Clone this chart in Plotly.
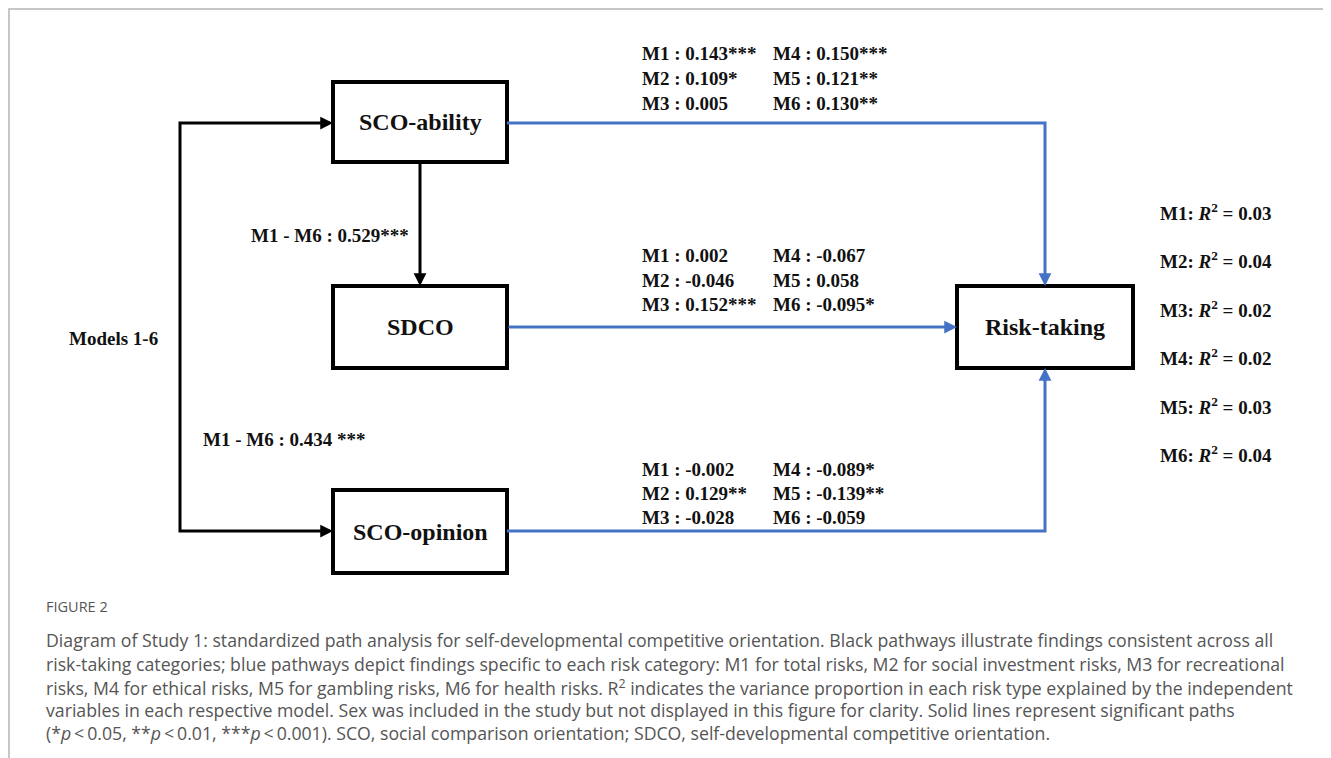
import plotly.graph_objects as go

# ---------------- data ----------------
models = ["M1", "M2", "M3", "M4", "M5", "M6"]
ability_beta = ["0.143", "0.109", "0.005", "0.150", "0.121", "0.130"]
ability_sig = ["***", "*", "", "***", "**", "**"]
sdco_beta = ["0.002", "-0.046", "0.152", "-0.067", "0.058", "-0.095"]
sdco_sig = ["", "", "***", "", "", "*"]
opinion_beta = ["-0.002", "0.129", "-0.028", "-0.089", "-0.139", "-0.059"]
opinion_sig = ["", "**", "", "*", "**", ""]
r_squared = ["0.03", "0.04", "0.02", "0.02", "0.03", "0.04"]
ability_to_sdco = "M1 - M6 : 0.529***"
ability_opinion_cov = "M1 - M6 : 0.434 ***"
node_labels = ["SCO-ability", "SDCO", "SCO-opinion", "Risk-taking"]

caption_title = "FIGURE 2"
caption_lines = [
    "Diagram of Study 1: standardized path analysis for self-developmental competitive orientation. Black pathways illustrate findings consistent across all",
    "risk-taking categories; blue pathways depict findings specific to each risk category: M1 for total risks, M2 for social investment risks, M3 for recreational",
    "risks, M4 for ethical risks, M5 for gambling risks, M6 for health risks. R<sup>2</sup> indicates the variance proportion in each risk type explained by the independent",
    "variables in each respective model. Sex was included in the study but not displayed in this figure for clarity. Solid lines represent significant paths",
    "(*<i>p</i>&#8201;&lt;&#8201;0.05, **<i>p</i>&#8201;&lt;&#8201;0.01, ***<i>p</i>&#8201;&lt;&#8201;0.001). SCO, social comparison orientation; SDCO, self-developmental competitive orientation.",
]

# ---------------- layout (pixel canvas; page body has an 8px margin) ----------------
W, H = 1331, 758
OFF = 8
BLUE = "#4472C4"
BLACK = "#000000"
SERIF = "Liberation Serif, Times New Roman, serif"
SANS = "Open Sans, Lato, sans-serif"

boxes = {  # x0, y0, x1, y1
    "SCO-ability": (333, 82, 507, 162),
    "SDCO": (333, 286, 507, 368),
    "SCO-opinion": (333, 490, 507, 573),
    "Risk-taking": (957, 286, 1133, 368),
}

fig = go.Figure()
shapes = []
annotations = []

# frame
shapes.append(dict(type="path", path=f"M 9 {H} L 9 9 L {W} 9", line=dict(color="#b5b5b5", width=1.5)))

# boxes
for name in node_labels:
    x0, y0, x1, y1 = boxes[name]
    shapes.append(dict(type="rect", x0=x0, y0=y0, x1=x1, y1=y1,
                       line=dict(color=BLACK, width=4), fillcolor="white", layer="above"))
    annotations.append(dict(x=(x0 + x1) / 2, y=(y0 + y1) / 2, text=f"<b>{name}</b>", showarrow=False,
                            font=dict(family=SERIF, size=24, color="#111")))


def arrow(x, y, ax, ay, color):
    annotations.append(dict(x=x, y=y, ax=ax, ay=ay, xref="x", yref="y", axref="x", ayref="y",
                            text="", showarrow=True, arrowhead=2, arrowsize=0.85, arrowwidth=3,
                            arrowcolor=color, standoff=0, startstandoff=0))


ab = boxes["SCO-ability"]; sd = boxes["SDCO"]; op = boxes["SCO-opinion"]; rt = boxes["Risk-taking"]
ab_y = 123; sd_y = 327; op_y = 531
rt_cx = (rt[0] + rt[2]) / 2
left_x = 180

# black bracket (covariance / model paths)
shapes.append(dict(type="path", path=f"M {ab[0]-10} {ab_y} L {left_x} {ab_y} L {left_x} {op_y} L {op[0]-10} {op_y}",
                   line=dict(color=BLACK, width=3)))
arrow(ab[0], ab_y, ab[0] - 14, ab_y, BLACK)
arrow(op[0], op_y, op[0] - 14, op_y, BLACK)
# SCO-ability -> SDCO
cx = (ab[0] + ab[2]) / 2
arrow(cx, sd[1], cx, ab[3], BLACK)

# blue paths
shapes.append(dict(type="path", path=f"M {ab[2]} {ab_y} L {rt_cx} {ab_y} L {rt_cx} {rt[1]-10}",
                   line=dict(color=BLUE, width=3)))
arrow(rt_cx, rt[1], rt_cx, rt[1] - 14, BLUE)
arrow(rt[0], sd_y, sd[2], sd_y, BLUE)
shapes.append(dict(type="path", path=f"M {op[2]} {op_y} L {rt_cx} {op_y} L {rt_cx} {rt[3]+10}",
                   line=dict(color=BLUE, width=3)))
arrow(rt_cx, rt[3], rt_cx, rt[3] + 14, BLUE)


def txt(x, y, s, size=19, anchor="left"):
    annotations.append(dict(x=x, y=y, text=s, showarrow=False, xanchor=anchor, yanchor="middle",
                            font=dict(family=SERIF, size=size, color="#111")))


def coef_block(betas, sigs, y_rows):
    for i in range(6):
        col = i // 3
        row = i % 3
        xx = 640 if col == 0 else 771
        txt(xx, y_rows[row], f"<b>{models[i]} : {betas[i]}{sigs[i]}</b>")


coef_block(ability_beta, ability_sig, [53, 78, 103])
coef_block(sdco_beta, sdco_sig, [255, 280, 304])
coef_block(opinion_beta, opinion_sig, [469, 493, 517])

txt(411, 235, f"<b>{ability_to_sdco}</b>", anchor="right")
txt(201, 439, f"<b>{ability_opinion_cov}</b>")
txt(67, 338, "<b>Models 1-6</b>")

r_rows = [212, 260, 309, 357, 406, 454]
for i in range(6):
    txt(1158, r_rows[i], f"<b>{models[i]}: <i>R</i><sup>2</sup> = {r_squared[i]}</b>")

# caption
annotations.append(dict(x=44, y=606, text=caption_title, showarrow=False, xanchor="left", yanchor="middle",
                        font=dict(family=SANS, size=14.5, color="#555")))
cap_rows = [640, 663.5, 687, 710, 733]
for i, line in enumerate(caption_lines):
    annotations.append(dict(x=44, y=cap_rows[i], text=line, showarrow=False, xanchor="left", yanchor="middle",
                            font=dict(family=SANS, size=17.7, color="#555")))

fig.update_layout(
    width=W - OFF, height=H - OFF, margin=dict(l=0, r=0, t=0, b=0),
    paper_bgcolor="white", plot_bgcolor="white",
    xaxis=dict(range=[OFF, W], visible=False, fixedrange=True),
    yaxis=dict(range=[H, OFF], visible=False, fixedrange=True),
    shapes=shapes, annotations=annotations, showlegend=False,
)
fig.write_html("out.html")
